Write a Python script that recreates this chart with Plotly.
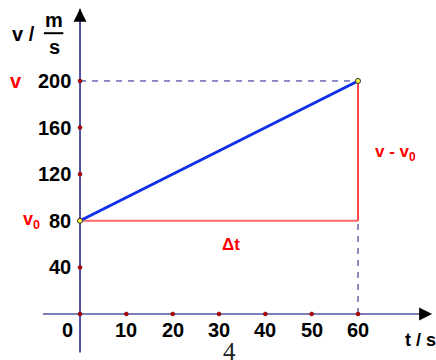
import plotly.graph_objects as go

# data
t_ticks = [10, 20, 30, 40, 50, 60]
v_ticks = [40, 80, 120, 160, 200]
t_line = [0, 60]
v_line = [80, 200]
t0, t1 = 0, 60
v0, v1 = 80, 200

FONT = "Liberation Sans, Arial, sans-serif"
AXIS = "#1c1c8c"

fig = go.Figure()

# dashed guide lines
fig.add_trace(go.Scatter(x=[t0, t1], y=[v1, v1], mode="lines",
                         line=dict(color=AXIS, width=1, dash="6px,6px"), hoverinfo="skip"))
fig.add_trace(go.Scatter(x=[t1, t1], y=[0, v0], mode="lines",
                         line=dict(color=AXIS, width=1, dash="6px,6px"), hoverinfo="skip"))
# axes
fig.add_trace(go.Scatter(x=[-8, 75.5], y=[0, 0], mode="lines",
                         line=dict(color="#5454a8", width=1.5), hoverinfo="skip"))
fig.add_trace(go.Scatter(x=[0, 0], y=[-33, 262], mode="lines",
                         line=dict(color=AXIS, width=1.5), hoverinfo="skip"))
# red delta lines
fig.add_trace(go.Scatter(x=[t0, t1], y=[v0, v0], mode="lines",
                         line=dict(color="#ff6a6a", width=2), hoverinfo="skip"))
fig.add_trace(go.Scatter(x=[t1, t1], y=[v0, v1], mode="lines",
                         line=dict(color="#ff1010", width=1.5), hoverinfo="skip"))
# main line
fig.add_trace(go.Scatter(x=t_line, y=v_line, mode="lines",
                         line=dict(color="#1030e8", width=3), hoverinfo="skip"))
# tick dots
fig.add_trace(go.Scatter(x=[0] + t_ticks, y=[0] * (len(t_ticks) + 1), mode="markers",
                         marker=dict(color="#c00000", size=4, line=dict(color="#500000", width=0.5)),
                         hoverinfo="skip"))
fig.add_trace(go.Scatter(x=[0] * len(v_ticks), y=v_ticks, mode="markers",
                         marker=dict(color="#c00000", size=4, line=dict(color="#500000", width=0.5)),
                         hoverinfo="skip"))
# endpoints
fig.add_trace(go.Scatter(x=t_line, y=v_line, mode="markers",
                         marker=dict(color="#ffff40", size=5, line=dict(color="#303030", width=1)),
                         hoverinfo="skip"))

ann = []
for t in t_ticks:
    ann.append(dict(x=t, y=-14, text=str(t), showarrow=False,
                    font=dict(family=FONT, size=20, color="black", weight="bold")))
ann.append(dict(x=-2.6, y=-14, text="0", showarrow=False,
                font=dict(family=FONT, size=20, color="black", weight="bold")))
for v in v_ticks:
    ann.append(dict(x=-1.6, y=v, text=str(v), showarrow=False, xanchor="right",
                    font=dict(family=FONT, size=20, color="black", weight="bold")))

# arrowheads
ann.append(dict(x=0, y=262, ax=0, ay=14, axref="pixel", ayref="pixel", text="", showarrow=True,
                arrowhead=2, arrowsize=1.3, arrowwidth=2, arrowcolor="black"))
ann.append(dict(x=76.0, y=0, ax=-14, ay=0, axref="pixel", ayref="pixel", text="", showarrow=True,
                arrowhead=2, arrowsize=1.3, arrowwidth=2, arrowcolor="black"))

# labels
red = "#ff0000"
ann.append(dict(x=-13.9, y=v1, text="v", showarrow=False,
                font=dict(family=FONT, size=20, color=red, weight="bold")))
ann.append(dict(x=-10.5, y=v0, text="v<sub>0</sub>", showarrow=False,
                font=dict(family=FONT, size=18, color=red, weight="bold")))
ann.append(dict(x=68, y=138, text="v - v<sub>0</sub>", showarrow=False,
                font=dict(family=FONT, size=17, color=red, weight="bold")))
ann.append(dict(x=32.5, y=60, text="\u0394t", showarrow=False,
                font=dict(family=FONT, size=17, color=red, weight="bold")))
ann.append(dict(x=73.5, y=-22, text="t / s", showarrow=False,
                font=dict(family=FONT, size=18, color="black", weight="bold")))
ann.append(dict(x=-12.2, y=240, text="v /", showarrow=False,
                font=dict(family=FONT, size=20, color="black", weight="bold")))
ann.append(dict(x=-5.6, y=252, text="m", showarrow=False,
                font=dict(family=FONT, size=20, color="black", weight="bold")))
ann.append(dict(x=-5.6, y=229, text="s", showarrow=False,
                font=dict(family=FONT, size=20, color="black", weight="bold")))
ann.append(dict(x=32.2, y=-32, text="4", showarrow=False,
                font=dict(family="Liberation Serif, serif", size=25, color="#222222")))

fig.add_shape(type="line", x0=-7.8, x1=-3.6, y0=241, y1=241,
              line=dict(color="black", width=2))

fig.update_layout(
    width=436, height=360,
    margin=dict(l=0, r=0, t=0, b=0),
    paper_bgcolor="white", plot_bgcolor="white",
    showlegend=False,
    annotations=ann,
    xaxis=dict(range=[-17.27, 76.83], visible=False, fixedrange=True),
    yaxis=dict(range=[-39.5, 269.5], visible=False, fixedrange=True),
)

fig.write_html("out.html", config={"displayModeBar": False},
               post_script="document.body.style.margin='0';document.body.style.overflow='hidden';")
